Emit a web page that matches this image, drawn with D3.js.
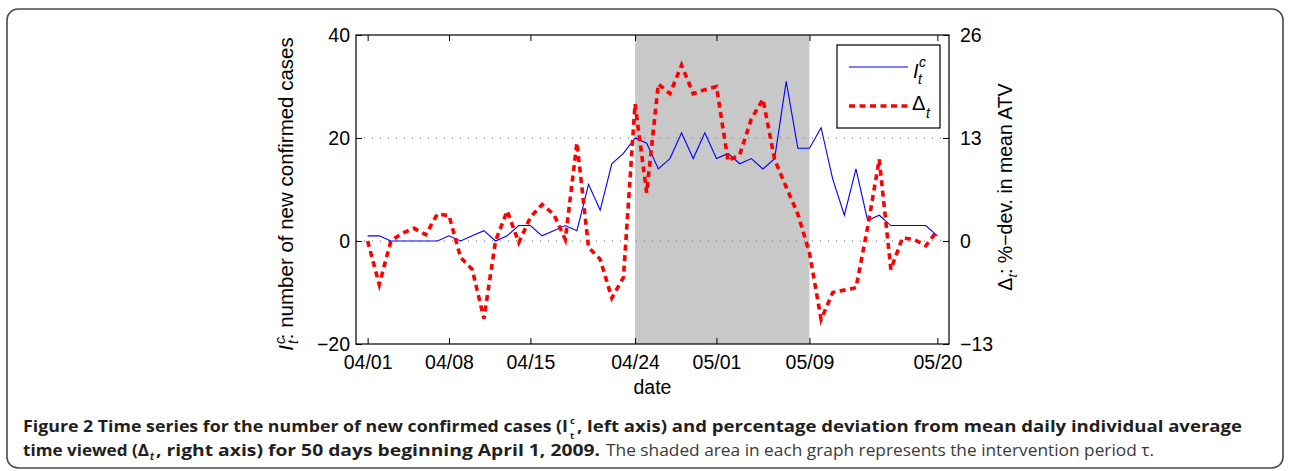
<!DOCTYPE html>
<html><head><meta charset="utf-8">
<script src="https://cdn.jsdelivr.net/npm/d3@7"></script>
<style>
html,body{margin:0;padding:0;background:#fff;}
svg{display:block;}
</style></head>
<body>
<svg id="chart" width="1289" height="471"></svg>
<script>
// ---- data ----
const days = d3.range(0, 50);
const newCases = [1,1,0,0,0,0,0,1,0,1, 2,0,1,3,3,1,2,3,2,11, 6,15,17,20,19,14,16,21,16,21, 16,17,15,16,14,16,31,18,18,22, 12,5,14,4,5,3,3,3,3,1];
const deltaATV = [0,-5.5,0,1.0,1.6,0.8,3.4,3.2,-2.1,-3.6, -9.8,0,3.8,-0.2,3.0,4.6,3.4,0.2,12.4,-0.8, -2.3,-7.2,-4.6,17.3,6.1,19.8,18.6,22.2,18.6,19.1, 19.5,10.1,10.9,15.4,17.9,10.3,6.8,3.4,-1.5,-9.9, -6.5,-6.2,-5.9,1.7,10.3,-3.6,0.4,0.2,-0.6,1.3];
const dateTickDays = [0,7,14,23,30,38,49];
const dateTickLabels = ["04/01","04/08","04/15","04/24","05/01","05/09","05/20"];
const leftTicks = [-20,0,20,40];
const rightTicks = [-13,0,13,26];
const gridTicks = [0,20];
const interventionPeriod = [23,38];

// ---- layout ----
const svg = d3.select("#chart");
const L = 356, R = 949, T = 35, B = 344;
const font = "'Liberation Sans', Arial, Helvetica, sans-serif";

const x = d3.scaleLinear().domain([-1,50]).range([L,R]);
const yL = d3.scaleLinear().domain([-20,40]).range([B,T]);
const yR = d3.scaleLinear().domain([-13,26]).range([B,T]);

// outer rounded border
svg.append("rect").attr("x",7).attr("y",9).attr("width",1276).attr("height",459)
  .attr("rx",11).attr("ry",11).attr("fill","none").attr("stroke","#4a4a4a").attr("stroke-width",1.6);

// plot background
svg.append("rect").attr("x",L).attr("y",T).attr("width",R-L).attr("height",B-T).attr("fill","#fff");

// shaded intervention
svg.append("rect").attr("x",x(interventionPeriod[0])).attr("y",T)
  .attr("width",x(interventionPeriod[1])-x(interventionPeriod[0])).attr("height",B-T)
  .attr("fill","#c8c8c8");

// grid lines
svg.append("g").selectAll("line").data(gridTicks).join("line")
  .attr("x1",L).attr("x2",R).attr("y1",d=>yL(d)).attr("y2",d=>yL(d))
  .attr("stroke","#666").attr("stroke-width",1).attr("stroke-dasharray","1,7");

// lines
const lineCases = d3.line().x((d,i)=>x(days[i])).y(d=>yL(d));
const lineDelta = d3.line().x((d,i)=>x(days[i])).y(d=>yR(d));

svg.append("path").datum(newCases).attr("d",lineCases)
  .attr("fill","none").attr("stroke","#0000ff").attr("stroke-width",1.1);
svg.append("path").datum(deltaATV).attr("d",lineDelta)
  .attr("fill","none").attr("stroke","#ff0000").attr("stroke-width",3.6)
  .attr("stroke-dasharray","6,4.5");

// frame
svg.append("rect").attr("x",L).attr("y",T).attr("width",R-L).attr("height",B-T)
  .attr("fill","none").attr("stroke","#000").attr("stroke-width",1.2);

// axes
function styleAxis(g){
  g.select(".domain").remove();
  g.selectAll("line").attr("stroke","#000").attr("stroke-width",1);
  g.selectAll("text").attr("font-family",font).attr("font-size",19.5).attr("fill","#000");
}
const fmtDate = d => dateTickLabels[dateTickDays.indexOf(d)];
svg.append("g").attr("transform",`translate(0,${B})`)
  .call(d3.axisBottom(x).tickValues(dateTickDays).tickFormat(fmtDate).tickSize(-6).tickPadding(11))
  .call(styleAxis);
svg.append("g").attr("transform",`translate(0,${T})`)
  .call(d3.axisTop(x).tickValues(dateTickDays).tickFormat("").tickSize(-6))
  .call(styleAxis);
svg.append("g").attr("transform",`translate(${L},0)`)
  .call(d3.axisLeft(yL).tickValues(leftTicks).tickFormat(d3.format("d")).tickSize(-6).tickPadding(6))
  .call(styleAxis);
svg.append("g").attr("transform",`translate(${R},0)`)
  .call(d3.axisRight(yR).tickValues(rightTicks).tickFormat(d3.format("d")).tickSize(-6).tickPadding(11))
  .call(styleAxis);

// x label
svg.append("text").attr("x",(L+R)/2).attr("y",394).attr("text-anchor","middle")
  .attr("font-family",font).attr("font-size",19.5).text("date");

// left y label
const ll = svg.append("g").attr("transform","translate(293,194) rotate(-90)")
  .append("text").attr("text-anchor","middle").attr("font-family",font).attr("font-size",20.5);
ll.append("tspan").attr("font-style","italic").text("I");
ll.append("tspan").attr("font-style","italic").attr("font-size",14).attr("dy",-8).attr("dx",1).text("c");
ll.append("tspan").attr("font-style","italic").attr("font-size",14).attr("dy",13).attr("dx",-7).text("t");
ll.append("tspan").attr("dy",-5).attr("dx",1).text(": number of new confirmed cases");

// right y label
const rl = svg.append("g").attr("transform","translate(1012,187) rotate(-90)")
  .append("text").attr("text-anchor","middle").attr("font-family",font).attr("font-size",19.5);
rl.append("tspan").text("Δ");
rl.append("tspan").attr("font-style","italic").attr("font-size",13).attr("dy",5).text("t");
rl.append("tspan").attr("dy",-5).text(": %−dev. in mean ATV");

// legend
const lg = svg.append("g");
lg.append("rect").attr("x",837).attr("y",45).attr("width",103).attr("height",83)
  .attr("fill","#fff").attr("stroke","#000").attr("stroke-width",1.2);
lg.append("line").attr("x1",849).attr("x2",908).attr("y1",67).attr("y2",67)
  .attr("stroke","#0000ff").attr("stroke-width",1.1);
lg.append("line").attr("x1",849).attr("x2",908).attr("y1",106).attr("y2",106)
  .attr("stroke","#ff0000").attr("stroke-width",3.6).attr("stroke-dasharray","6,4.5");
lg.append("text").attr("x",913).attr("y",78).attr("font-family",font).attr("font-size",20).attr("font-style","italic").text("I");
lg.append("text").attr("x",919).attr("y",67).attr("font-family",font).attr("font-size",14).attr("font-style","italic").text("c");
lg.append("text").attr("x",918).attr("y",84).attr("font-family",font).attr("font-size",14).attr("font-style","italic").text("t");
lg.append("text").attr("x",912).attr("y",110).attr("font-family",font).attr("font-size",20).text("Δ");
lg.append("text").attr("x",926).attr("y",118).attr("font-family",font).attr("font-size",14).attr("font-style","italic").text("t");

// caption
const cf = "'Open Sans', 'Noto Sans', sans-serif";
function seg(xp, yp, str, len, opts){
  const t = svg.append("text").attr("x",xp).attr("y",yp).attr("font-family",cf)
    .attr("font-size",opts.size||16.5).attr("font-weight",opts.weight||"bold")
    .attr("fill",opts.fill||"#231f20").text(str);
  if(opts.italic) t.attr("font-style","italic");
  if(len) t.attr("textLength",len).attr("lengthAdjust","spacingAndGlyphs");
  return t;
}
seg(23,432,"Figure 2 Time series for the number of new confirmed cases (I",545,{});
seg(570,424,"c",null,{size:9.5});
seg(570,439,"t",null,{size:9.5});
seg(577,432,", left axis) and percentage deviation from mean daily individual average",665,{});
seg(23,456,"time viewed (Δ",126,{});
seg(150,460,"t",null,{size:10,italic:true});
seg(156,456,", right axis) for 50 days beginning April 1, 2009.",444,{});
seg(606,456,"The shaded area in each graph represents the intervention period τ.",548,{weight:"normal",fill:"#3a3a3a"});
</script>
</body></html>
